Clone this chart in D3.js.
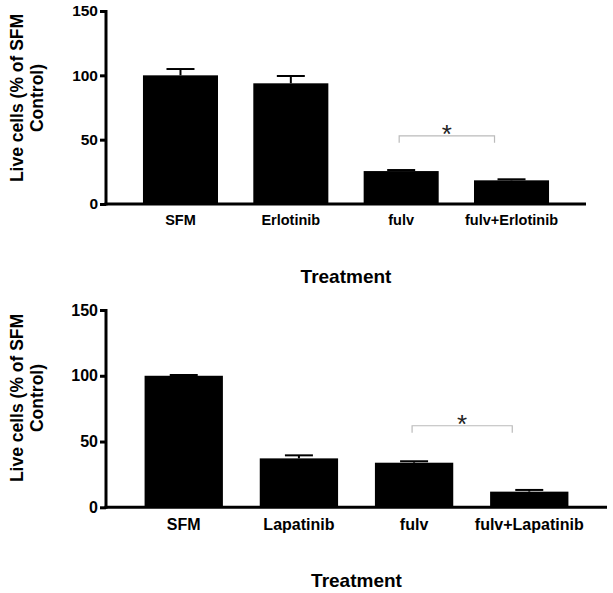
<!DOCTYPE html>
<html><head><meta charset="utf-8">
<script src="https://cdn.jsdelivr.net/npm/d3@7"></script>
<style>html,body{margin:0;padding:0;background:#fff;}svg{display:block;}</style>
</head><body>
<svg id="chart" width="613" height="593"></svg>
<script>
const yTicks = [0, 50, 100, 150];
const categoriesTop = ["SFM", "Erlotinib", "fulv", "fulv+Erlotinib"];
const valuesTop = [100, 93.8, 25.6, 18.4];
const errorsTop = [4.9, 5.7, 0.8, 0.8];
const categoriesBottom = ["SFM", "Lapatinib", "fulv", "fulv+Lapatinib"];
const valuesBottom = [100, 37.2, 33.9, 11.9];
const errorsBottom = [0.6, 2.3, 1.1, 1.3];
const sigPairTop = ["fulv", "fulv+Erlotinib"], sigLevelTop = 53;
const sigPairBottom = ["fulv", "fulv+Lapatinib"], sigLevelBottom = 62;
const yTitleLines = ["Live cells (% of SFM", "Control)"];
const xTitle = "Treatment";

const FONT = "'Liberation Sans', Arial, Helvetica, sans-serif";
const svg = d3.select("#chart");

function panel(cfg) {
  const g = svg.append("g");
  const x = d3.scaleBand().domain(cfg.cats).range([cfg.left, cfg.right])
    .paddingInner(0.32).paddingOuter(0.335);
  const y = d3.scaleLinear().domain([0, 150]).range([cfg.bottom, cfg.top]);
  const data = cfg.cats.map((c, i) => ({c, v: cfg.vals[i], e: cfg.errs[i]}));

  // bars
  g.selectAll("rect.bar").data(data).join("rect")
    .attr("x", d => x(d.c)).attr("width", x.bandwidth())
    .attr("y", d => y(d.v)).attr("height", d => y(0) - y(d.v))
    .attr("fill", "#000");

  // error bars (upper only)
  const capW = 28;
  g.selectAll("line.stem").data(data).join("line")
    .attr("x1", d => x(d.c) + x.bandwidth() / 2).attr("x2", d => x(d.c) + x.bandwidth() / 2)
    .attr("y1", d => y(d.v)).attr("y2", d => y(d.v + d.e))
    .attr("stroke", "#000").attr("stroke-width", 2);
  g.selectAll("line.cap").data(data).join("line")
    .attr("x1", d => x(d.c) + x.bandwidth() / 2 - capW / 2).attr("x2", d => x(d.c) + x.bandwidth() / 2 + capW / 2)
    .attr("y1", d => y(d.v + d.e)).attr("y2", d => y(d.v + d.e))
    .attr("stroke", "#000").attr("stroke-width", 2);

  // y axis
  const yAxis = d3.axisLeft(y).tickValues(yTicks).tickSize(6).tickPadding(2).tickSizeOuter(0);
  const ya = g.append("g").attr("transform", `translate(${cfg.left},0)`).call(yAxis);
  ya.select(".domain").attr("stroke", "#000").attr("stroke-width", 3)
    .attr("d", `M0,${cfg.top - 1}V${cfg.bottom + 1.5}`);
  ya.selectAll(".tick line").attr("stroke", "#000").attr("stroke-width", 3);
  ya.selectAll(".tick text").attr("font-family", FONT).attr("font-weight", "bold")
    .attr("font-size", cfg.tickFont).attr("fill", "#000");

  // x axis
  const xAxis = d3.axisBottom(x).tickSize(0).tickPadding(cfg.xLabelPad).tickSizeOuter(0);
  const xa = g.append("g").attr("transform", `translate(0,${cfg.bottom})`).call(xAxis);
  xa.select(".domain").attr("stroke", "#000").attr("stroke-width", 3)
    .attr("d", `M${cfg.left - 1.5},0H${cfg.right}`);
  xa.selectAll(".tick text").attr("font-family", FONT).attr("font-weight", "bold")
    .attr("font-size", cfg.catFont).attr("fill", "#000");

  // significance bracket
  const x1 = x(cfg.sig[0]) + x.bandwidth() / 2 - 2;
  const x2 = x(cfg.sig[1]) + x.bandwidth() / 2 - 17;
  const yb = y(cfg.sigLevel);
  g.append("path")
    .attr("d", `M${x1},${yb + 7}V${yb}H${x2}V${yb + 7}`)
    .attr("fill", "none").attr("stroke", "#bbb").attr("stroke-width", 1.2);
  g.append("text").attr("x", (x1 + x2) / 2).attr("y", yb + 7)
    .attr("text-anchor", "middle").attr("font-family", FONT).attr("font-size", 26)
    .attr("fill", "#222").text("*");

  // x title
  g.append("text").attr("x", (cfg.left + cfg.right) / 2).attr("y", cfg.xTitleY)
    .attr("text-anchor", "middle").attr("font-family", FONT).attr("font-weight", "bold")
    .attr("font-size", 19).attr("fill", "#000").text(xTitle);

  // y title
  const yt = g.append("text")
    .attr("transform", `translate(23,${cfg.yTitleC}) rotate(-90)`)
    .attr("text-anchor", "middle").attr("font-family", FONT).attr("font-weight", "bold")
    .attr("font-size", 17.5).attr("fill", "#000");
  yTitleLines.forEach((t, i) => yt.append("tspan").attr("x", 0).attr("dy", i === 0 ? 0 : 20).text(t));
}

panel({cats: categoriesTop, vals: valuesTop, errs: errorsTop, sig: sigPairTop, sigLevel: sigLevelTop,
  left: 106, right: 586, top: 11, bottom: 204, tickFont: 15.5, catFont: 14.5, xLabelPad: 11,
  xTitleY: 283, yTitleC: 98});
panel({cats: categoriesBottom, vals: valuesBottom, errs: errorsBottom, sig: sigPairBottom, sigLevel: sigLevelBottom,
  left: 106, right: 607, top: 310, bottom: 507.3, tickFont: 16, catFont: 16, xLabelPad: 11,
  xTitleY: 587, yTitleC: 398});
</script>
</body></html>
